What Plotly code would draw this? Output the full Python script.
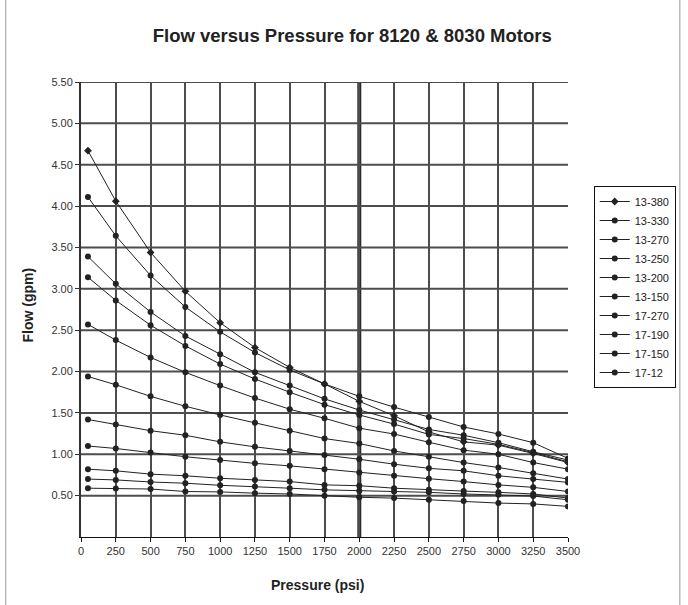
import plotly.graph_objects as go

# Pressure points (psi) at which flow was measured
pressure = [50, 250, 500, 750, 1000, 1250, 1500, 1750, 2000, 2250, 2500, 2750, 3000, 3250, 3500]

# Flow (gpm) per motor
flow_13_380 = [4.67, 4.06, 3.44, 2.97, 2.59, 2.29, 2.05, 1.85, 1.64, 1.465, 1.27, 1.15, 1.11, 1.01, 0.90]
flow_13_330 = [4.11, 3.64, 3.16, 2.78, 2.48, 2.23, 2.02, 1.85, 1.70, 1.57, 1.45, 1.33, 1.245, 1.14, 0.95]
flow_13_270 = [3.39, 3.06, 2.72, 2.43, 2.21, 1.99, 1.83, 1.67, 1.535, 1.42, 1.30, 1.23, 1.14, 1.03, 0.93]
flow_13_250 = [3.14, 2.86, 2.56, 2.31, 2.09, 1.91, 1.75, 1.60, 1.475, 1.365, 1.24, 1.19, 1.12, 1.02, 0.91]
flow_13_200 = [2.57, 2.38, 2.17, 1.99, 1.83, 1.68, 1.545, 1.435, 1.315, 1.245, 1.145, 1.05, 1.00, 0.90, 0.82]
flow_13_150 = [1.94, 1.84, 1.70, 1.58, 1.475, 1.38, 1.285, 1.19, 1.13, 1.04, 0.97, 0.90, 0.84, 0.77, 0.70]
flow_17_270 = [1.42, 1.36, 1.285, 1.23, 1.15, 1.09, 1.04, 0.99, 0.94, 0.88, 0.83, 0.80, 0.74, 0.70, 0.66]
flow_17_190 = [1.10, 1.07, 1.02, 0.97, 0.93, 0.89, 0.86, 0.82, 0.78, 0.74, 0.705, 0.67, 0.63, 0.60, 0.55]
flow_17_150 = [0.82, 0.80, 0.76, 0.74, 0.71, 0.69, 0.67, 0.63, 0.62, 0.59, 0.57, 0.555, 0.54, 0.52, 0.47]
flow_17_12 = [0.70, 0.69, 0.665, 0.65, 0.625, 0.61, 0.59, 0.57, 0.56, 0.55, 0.54, 0.52, 0.51, 0.495, 0.45]
flow_17_90 = [0.59, 0.585, 0.58, 0.55, 0.545, 0.53, 0.52, 0.50, 0.48, 0.47, 0.45, 0.435, 0.41, 0.40, 0.37]

series_names = ["13-380", "13-330", "13-270", "13-250", "13-200", "13-150",
                "17-270", "17-190", "17-150", "17-12", "17-90"]
series_values = [flow_13_380, flow_13_330, flow_13_270, flow_13_250, flow_13_200, flow_13_150,
                 flow_17_270, flow_17_190, flow_17_150, flow_17_12, flow_17_90]
in_legend = [True] * 10 + [False]

x_ticks = list(range(0, 3501, 250))
y_ticks = [i * 0.5 for i in range(1, 12)]

FONT = "Liberation Sans, Arial, sans-serif"
INK = "#222222"
GRID = "#4d4d4d"

fig = go.Figure()

for name, vals, show in zip(series_names, series_values, in_legend):
    fig.add_trace(go.Scatter(
        x=pressure, y=vals, name=name, mode="lines+markers",
        showlegend=show,
        line=dict(color=INK, width=1),
        marker=dict(color=INK, size=6, symbol="diamond" if name == "13-380" else "circle"),
    ))

# Heavier reference line at 2000 psi
fig.add_shape(type="line", xref="x", yref="y", x0=2000, x1=2000, y0=0, y1=5.5,
              line=dict(color="#2a2a2a", width=4), layer="below")

# Horizontal grid from 0.50 to 5.50 only
for yv in y_ticks:
    fig.add_shape(type="line", xref="x", yref="y", x0=0, x1=3500, y0=yv, y1=yv,
                  line=dict(color=GRID, width=2), layer="below")

# Outer chart frame (left and right edges)
for px in (5, 686):
    fig.add_shape(type="line", xref="paper", yref="paper",
                  x0=(px - 81) / 492, x1=(px - 81) / 492, y0=-68 / 455, y1=(455 + 82) / 455,
                  line=dict(color="#9a9a9a", width=1))

fig.update_layout(
    width=688, height=605,
    margin=dict(l=81, r=115, t=82, b=68),
    paper_bgcolor="white", plot_bgcolor="white",
    font=dict(family=FONT, color=INK, size=11),
    title=dict(text="<b>Flow versus Pressure for 8120 &amp; 8030 Motors</b>",
               x=0.512, xanchor="center", y=1 - 36 / 605, yanchor="middle",
               font=dict(size=18.5, family=FONT, color=INK)),
    xaxis=dict(range=[0, 3500], tickvals=x_ticks, ticktext=[str(v) for v in x_ticks],
               showgrid=True, gridcolor=GRID, gridwidth=2,
               showline=True, linecolor="#111111", linewidth=1,
               ticks="outside", ticklen=4, tickcolor="#111111",
               tickfont=dict(size=11, color="#333333"), zeroline=False),
    yaxis=dict(range=[0, 5.5], tickvals=y_ticks, ticktext=[f"{v:.2f}" for v in y_ticks],
               showgrid=False,
               showline=True, linecolor="#333333", linewidth=2,
               ticks="outside", ticklen=4, tickcolor="#333333",
               tickfont=dict(size=11, color="#333333"), zeroline=False),
    legend=dict(x=(599 - 81) / 492, xanchor="left", y=(537 - 186) / 455, yanchor="top",
                bordercolor="#111111", borderwidth=1, bgcolor="white",
                font=dict(size=11, family=FONT, color=INK), itemwidth=30,
                tracegroupgap=0),
    showlegend=True,
)

fig.add_annotation(text="<b>Flow (gpm)</b>", xref="paper", yref="paper",
                   x=(27 - 81) / 492, y=(537 - 305) / 455, textangle=-90,
                   showarrow=False, font=dict(size=14, family=FONT, color=INK),
                   xanchor="center", yanchor="middle")
fig.add_annotation(text="<b>Pressure (psi)</b>", xref="paper", yref="paper",
                   x=(320 - 81) / 492, y=-(585 - 537) / 455,
                   showarrow=False, font=dict(size=14, family=FONT, color=INK),
                   xanchor="center", yanchor="middle")

fig.write_html("out.html")
